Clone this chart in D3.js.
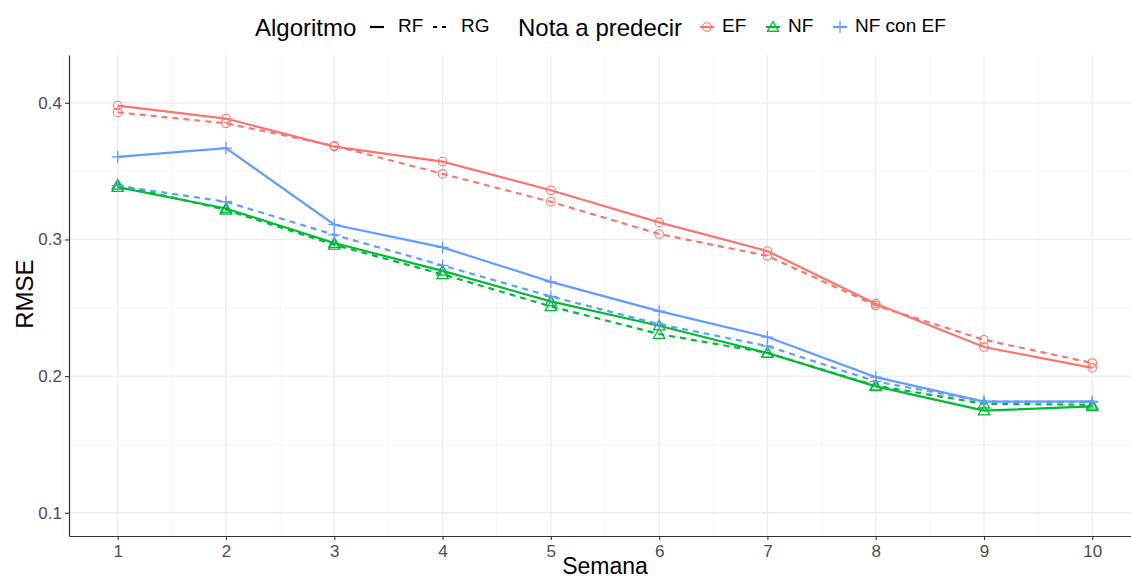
<!DOCTYPE html>
<html>
<head>
<meta charset="utf-8">
<script src="https://cdn.jsdelivr.net/npm/d3@7"></script>
<style>
  body { margin: 0; background: #fff; }
  svg text { font-family: "Liberation Sans", Arial, sans-serif; }
</style>
</head>
<body>
<div id="chart"></div>
<script>
// semanas
const semanas = [1, 2, 3, 4, 5, 6, 7, 8, 9, 10];
const yTicks = [0.1, 0.2, 0.3, 0.4];

// RMSE por nota y algoritmo
const efRF = [0.398, 0.3885, 0.368, 0.357, 0.336, 0.3125, 0.2915, 0.253, 0.2213, 0.206];
const efRG = [0.393, 0.385, 0.3685, 0.348, 0.3276, 0.304, 0.288, 0.2517, 0.2266, 0.2096];
const nfRF = [0.3383, 0.3227, 0.2974, 0.277, 0.2547, 0.2369, 0.2169, 0.1925, 0.1747, 0.1778];
const nfRG = [0.340, 0.3217, 0.2961, 0.2745, 0.251, 0.2308, 0.217, 0.193, 0.1798, 0.179];
const nfefRF = [0.3605, 0.3669, 0.3108, 0.2942, 0.269, 0.2476, 0.2286, 0.1993, 0.1813, 0.1815];
const nfefRG = [0.3393, 0.3276, 0.3034, 0.281, 0.2583, 0.238, 0.222, 0.1961, 0.1815, 0.181];

const notas = ["EF", "NF", "NF con EF"];
const algoritmos = ["RF", "RG"];

const series = [
    { nota: "EF", alg: "RF", values: efRF },
    { nota: "EF", alg: "RG", values: efRG },
    { nota: "NF", alg: "RF", values: nfRF },
    { nota: "NF", alg: "RG", values: nfRG },
    { nota: "NF con EF", alg: "RF", values: nfefRF },
    { nota: "NF con EF", alg: "RG", values: nfefRG }
];

const width = 1131, height = 579;
const margin = { top: 55, right: -10, bottom: 43, left: 69 };
const innerW = width - margin.left - margin.right;
const innerH = height - margin.top - margin.bottom;

const color = d3.scaleOrdinal().domain(notas).range(["#F8766D", "#00BA38", "#619CFF"]);
const dash = d3.scaleOrdinal().domain(algoritmos).range(["none", "6,5"]);

const svg = d3.select("#chart").append("svg")
    .attr("width", width)
    .attr("height", height);

const chart = svg.append("g")
    .attr("transform", `translate(${margin.left},${margin.top})`);

const x = d3.scaleLinear().domain([0.55, 10.45]).range([0, innerW]);
const y = d3.scaleLinear().domain([0.083, 0.435]).range([innerH, 0]);

// grid
const xMinor = d3.range(0.5, 11, 1);
const yMinor = [0.15, 0.25, 0.35];
chart.append("g").selectAll("line").data(xMinor).join("line")
    .attr("x1", d => x(d)).attr("x2", d => x(d))
    .attr("y1", 0).attr("y2", innerH)
    .attr("stroke", "#F2F2F2").attr("stroke-width", 0.8);
chart.append("g").selectAll("line").data(yMinor).join("line")
    .attr("x1", 0).attr("x2", innerW)
    .attr("y1", d => y(d)).attr("y2", d => y(d))
    .attr("stroke", "#F2F2F2").attr("stroke-width", 0.8);
chart.append("g").selectAll("line").data(semanas).join("line")
    .attr("x1", d => x(d)).attr("x2", d => x(d))
    .attr("y1", 0).attr("y2", innerH)
    .attr("stroke", "#EBEBEB").attr("stroke-width", 1.3);
chart.append("g").selectAll("line").data(yTicks).join("line")
    .attr("x1", 0).attr("x2", innerW)
    .attr("y1", d => y(d)).attr("y2", d => y(d))
    .attr("stroke", "#EBEBEB").attr("stroke-width", 1.3);

// axes
const xAxis = d3.axisBottom(x).tickValues(semanas).tickSize(4).tickPadding(5).tickSizeOuter(0);
const yAxis = d3.axisLeft(y).tickValues(yTicks).tickSize(4).tickPadding(3).tickSizeOuter(0)
    .tickFormat(d3.format(".1f"));

const xAxisG = chart.append("g")
    .attr("transform", `translate(0,${innerH})`)
    .call(xAxis);
const yAxisG = chart.append("g").call(yAxis);

[xAxisG, yAxisG].forEach(g => {
    g.select(".domain").attr("stroke", "#333").attr("stroke-width", 1.2);
    g.selectAll(".tick line").attr("stroke", "#333").attr("stroke-width", 1.1);
    g.selectAll(".tick text").attr("fill", "#4D4D4D").attr("font-size", 17);
});

// lines
const line = d3.line()
    .x((d, i) => x(semanas[i]))
    .y(d => y(d));

chart.append("g").selectAll("path").data(series).join("path")
    .attr("fill", "none")
    .attr("stroke", d => color(d.nota))
    .attr("stroke-width", 2.2)
    .attr("stroke-dasharray", d => dash(d.alg))
    .attr("d", d => line(d.values));

// markers
const triangle = d3.symbol().type(d3.symbolTriangle).size(55);
function drawMarker(g, nota, cx, cy) {
    const c = color(nota);
    if (nota === "EF") {
        g.append("circle").attr("cx", cx).attr("cy", cy).attr("r", 4.3)
            .attr("fill", "none").attr("stroke", c).attr("stroke-width", 1.1);
    } else if (nota === "NF") {
        g.append("path").attr("d", triangle())
            .attr("transform", `translate(${cx},${cy + 1})`)
            .attr("fill", "none").attr("stroke", c).attr("stroke-width", 1.3);
    } else {
        g.append("path").attr("d", `M${cx - 6},${cy}H${cx + 6}M${cx},${cy - 6}V${cy + 6}`)
            .attr("stroke", c).attr("stroke-width", 1.3);
    }
}

const markers = chart.append("g");
series.forEach(s => {
    s.values.forEach((v, i) => drawMarker(markers, s.nota, x(semanas[i]), y(v)));
});

// axis titles
svg.append("text")
    .attr("x", 605)
    .attr("y", 574)
    .attr("text-anchor", "middle")
    .attr("font-size", 23)
    .attr("fill", "#000")
    .text("Semana");

svg.append("text")
    .attr("transform", `translate(33,${margin.top + y(0.26)}) rotate(-90)`)
    .attr("text-anchor", "middle")
    .attr("font-size", 24)
    .attr("fill", "#000")
    .text("RMSE");

// legend
const legend = svg.append("g").attr("transform", "translate(0,28)");
legend.append("text").attr("x", 255).attr("y", 8).attr("font-size", 24).text("Algoritmo");
const algX = [370, 433];
algoritmos.forEach((a, i) => {
    legend.append("line")
        .attr("x1", algX[i]).attr("x2", algX[i] + 14)
        .attr("y1", -1).attr("y2", -1)
        .attr("stroke", "#000").attr("stroke-width", 2.2)
        .attr("stroke-dasharray", a === "RG" ? "4,5" : "none");
    legend.append("text").attr("x", algX[i] + 28).attr("y", 4)
        .attr("font-size", 19).text(a);
});

legend.append("text").attr("x", 518).attr("y", 8).attr("font-size", 24).text("Nota a predecir");
const notaX = [707, 773, 840];
notas.forEach((n, i) => {
    const lg = legend.append("g");
    lg.append("line")
        .attr("x1", notaX[i] - 7).attr("x2", notaX[i] + 7)
        .attr("y1", -1).attr("y2", -1)
        .attr("stroke", color(n)).attr("stroke-width", 2.2);
    drawMarker(lg, n, notaX[i], -1);
    legend.append("text").attr("x", notaX[i] + 15).attr("y", 4)
        .attr("font-size", 19).text(n);
});
</script>
</body>
</html>
